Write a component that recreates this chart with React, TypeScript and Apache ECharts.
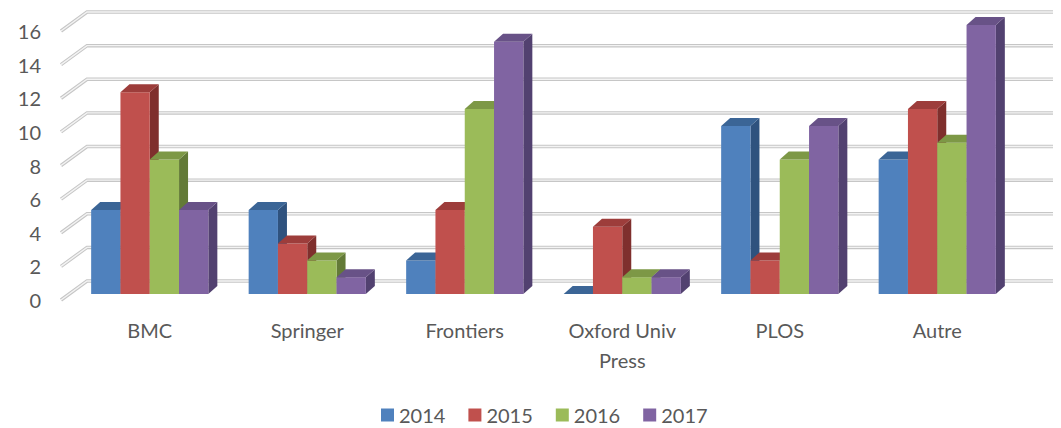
import React, { useEffect, useRef } from "react";
import * as echarts from "echarts";

const categories = ["BMC", "Springer", "Frontiers", "Oxford Univ\nPress", "PLOS", "Autre"];
const years = ["2014", "2015", "2016", "2017"];
const s2014 = [5, 5, 2, 0, 10, 8];
const s2015 = [12, 3, 5, 4, 2, 11];
const s2016 = [8, 2, 11, 1, 8, 9];
const s2017 = [5, 1, 15, 1, 10, 16];
const yTicks = [0, 2, 4, 6, 8, 10, 12, 14, 16];

const seriesValues = [s2014, s2015, s2016, s2017];
const frontColors = ["#4F81BD", "#C0504D", "#9BBB59", "#8064A2"];
const topColors = ["#3B6596", "#9D3D3B", "#7D9846", "#685287"];
const sideColors = ["#2F527E", "#7F2F2D", "#637A37", "#524170"];

const DX = 9;
const DY = 8;

export default function App() {
  const ref = useRef<HTMLDivElement>(null);
  useEffect(() => {
    if (!ref.current) return;
    const chart = echarts.init(ref.current, undefined, { renderer: "svg" });
    const font = "Lato, 'Noto Sans', sans-serif";

    const gridSeries: any = {
      type: "custom",
      name: "grid",
      z: 1,
      silent: true,
      data: yTicks.map((t) => [0, t]),
      encode: { x: 0, y: 1 },
      renderItem: (params: any, api: any) => {
        const v = api.value(1);
        const p = api.coord([0, v]);
        const cs = params.coordSys;
        const fx = cs.x - 10;
        const fy = p[1] + 6;
        const bx = cs.x + 16;
        const by = p[1] - 13;
        const ex = cs.x + cs.width + 37;
        const pts = [[fx, fy], [bx, by], [ex, by]];
        return {
          type: "group",
          children: [
            { type: "polyline", shape: { points: pts }, style: { fill: "none", stroke: "#c6c6c6", lineWidth: 3.5 } },
            { type: "polyline", shape: { points: pts }, style: { fill: "none", stroke: "#f3f3f3", lineWidth: 1.4 } },
            {
              type: "text",
              style: {
                text: String(v),
                x: cs.x - 30,
                y: fy,
                align: "right",
                verticalAlign: "middle",
                fontSize: 20,
                fontFamily: font,
                fill: "#595959",
              },
            },
          ],
        };
      },
    };

    const barSeries = seriesValues.map((vals, si) => ({
      type: "custom",
      name: years[si],
      z: 2,
      itemStyle: { color: frontColors[si] },
      data: vals.map((v, i) => [i, v]),
      encode: { x: 0, y: 1 },
      renderItem: (params: any, api: any) => {
        const ci = api.value(0);
        const v = api.value(1);
        const base = api.coord([ci, 0]);
        const top = api.coord([ci, v]);
        const band = api.size([1, 0])[0];
        const bw = band * 0.186;
        const x0 = base[0] - 2 * bw + si * bw;
        const x1 = x0 + bw;
        const yb = base[1];
        const yt = top[1];
        const children: any[] = [];
        if (v > 0) {
          children.push({
            type: "polygon",
            shape: { points: [[x1, yb], [x1 + DX, yb - DY], [x1 + DX, yt - DY], [x1, yt]] },
            style: { fill: sideColors[si] },
          });
          children.push({
            type: "rect",
            shape: { x: x0, y: yt, width: bw, height: yb - yt },
            style: { fill: frontColors[si] },
          });
        }
        children.push({
          type: "polygon",
          shape: { points: [[x0, yt], [x1, yt], [x1 + DX, yt - DY], [x0 + DX, yt - DY]] },
          style: { fill: topColors[si] },
        });
        return { type: "group", children };
      },
    }));

    chart.setOption({
      animation: false,
      grid: { left: 71, right: 45, top: 25, bottom: 134 },
      legend: {
        data: years,
        left: 381,
        top: 405,
        padding: 0,
        icon: "rect",
        itemWidth: 13,
        itemHeight: 13,
        itemGap: 23,
        textStyle: { fontSize: 20, lineHeight: 20, fontFamily: font, color: "#595959" },
      },
      xAxis: {
        type: "category",
        data: categories,
        axisLine: { show: false },
        axisTick: { show: false },
        splitLine: { show: false },
        axisLabel: {
          interval: 0,
          margin: 21,
          fontSize: 20,
          lineHeight: 30,
          fontFamily: font,
          color: "#595959",
        },
      },
      yAxis: {
        type: "value",
        min: 0,
        max: 16,
        interval: 2,
        axisLine: { show: false },
        axisTick: { show: false },
        axisLabel: { show: false },
        splitLine: { show: false },
      },
      series: [gridSeries, ...barSeries],
    });
    return () => chart.dispose();
  }, []);
  return <div ref={ref} style={{ width: 1061, height: 428, position: "absolute", left: 0, top: 0 }} />;
}
